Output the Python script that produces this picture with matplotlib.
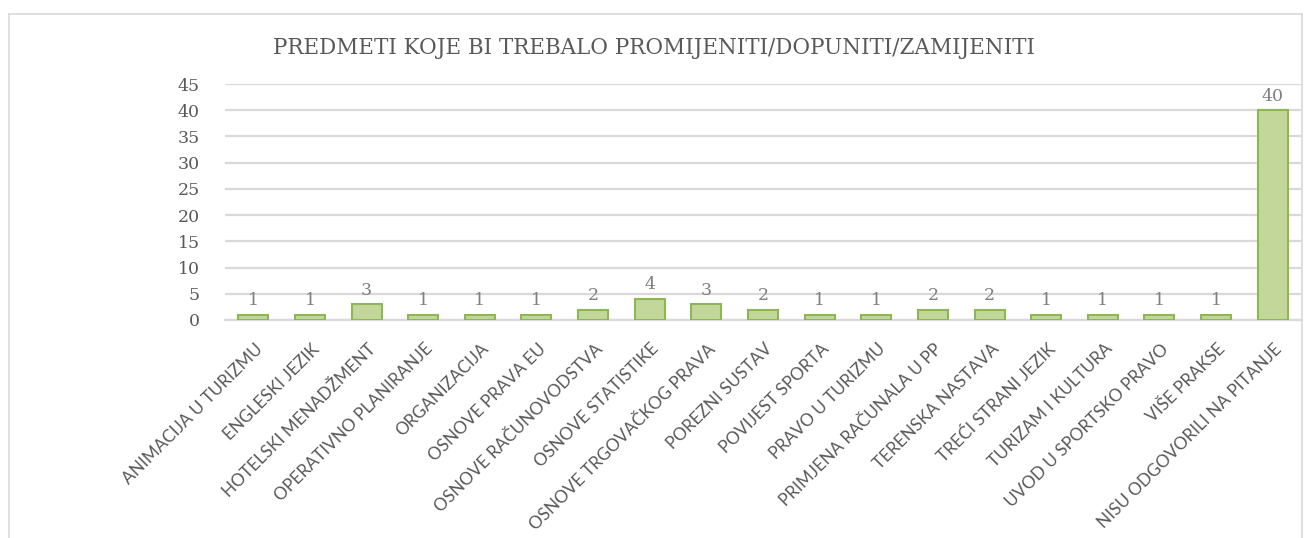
import matplotlib
matplotlib.use("Agg")
import matplotlib.pyplot as plt
from matplotlib.lines import Line2D
import matplotlib.transforms as mtransforms

categories = [
    "ANIMACIJA U TURIZMU", "ENGLESKI JEZIK", "HOTELSKI MENADŽMENT",
    "OPERATIVNO PLANIRANJE", "ORGANIZACIJA", "OSNOVE PRAVA EU",
    "OSNOVE RAČUNOVODSTVA", "OSNOVE STATISTIKE", "OSNOVE TRGOVAČKOG PRAVA",
    "POREZNI SUSTAV", "POVIJEST SPORTA", "PRAVO U TURIZMU",
    "PRIMJENA RAČUNALA U PP", "TERENSKA NASTAVA", "TREĆI STRANI JEZIK",
    "TURIZAM I KULTURA", "UVOD U SPORTSKO PRAVO", "VIŠE PRAKSE",
    "NISU ODGOVORILI NA PITANJE",
]
values = [1, 1, 3, 1, 1, 1, 2, 4, 3, 2, 1, 1, 2, 2, 1, 1, 1, 1, 40]
yticks = [0, 5, 10, 15, 20, 25, 30, 35, 40, 45]
title = "PREDMETI KOJE BI TREBALO PROMIJENITI/DOPUNITI/ZAMIJENITI"

W, H = 1306, 538
fig = plt.figure(figsize=(W / 100, H / 100), dpi=100)
ax = fig.add_axes([225 / W, 1 - 320 / H, (1301 - 225) / W, (320 - 84) / H])

serif = ["DejaVu Serif"]
sans = ["Lato", "DejaVu Sans"]
gray = "#595959"

# fit category label font size so the longest label is ~250 px long (as in reference)
renderer = fig.canvas.get_renderer()
probe = fig.text(0, 0, categories[-1], fontfamily=sans, fontsize=10)
wpx = probe.get_window_extent(renderer).width
probe.remove()
cat_fs = 10 * 250 / wpx

x = list(range(len(categories)))
ax.bar(x, values, width=0.53, color="#c4d79b", edgecolor="#8db654", linewidth=1.5, zorder=3)
ax.set_xlim(-0.5, len(categories) - 0.5)
ax.set_ylim(0, 45)
ax.set_yticks(yticks)
ax.set_yticklabels([str(t) for t in yticks], fontfamily=serif, fontsize=12.5, color=gray)
ax.yaxis.grid(True, color="#d9d9d9", linewidth=1.6, zorder=0)
ax.tick_params(axis="y", length=0, pad=18)
ax.tick_params(axis="x", length=0, pad=15)
for s in ["top", "right", "left"]:
    ax.spines[s].set_visible(False)
ax.spines["bottom"].set_color("#d9d9d9")
ax.spines["bottom"].set_linewidth(1.6)

ax.set_xticks(x)
ax.set_xticklabels(categories, rotation=45, ha="right", va="top", rotation_mode="anchor",
                   fontfamily=sans, fontsize=cat_fs, color=gray)
offset = mtransforms.ScaledTranslation(1 / 100, 0, fig.dpi_scale_trans)
for lbl in ax.get_xticklabels():
    lbl.set_transform(lbl.get_transform() + offset)

for xi, v in zip(x, values):
    ax.annotate(str(v), (xi, v), xytext=(0, 4), textcoords="offset points",
                ha="center", va="bottom", fontfamily=serif, fontsize=12.5, color="#7f7f7f")

fig.text(654 / W, 1 - 48 / H, title, ha="center", va="center",
         fontfamily=serif, fontsize=15.5, color=gray)

# chart frame
fc = "#d9d9d9"
fig.add_artist(Line2D([9 / W, 9 / W], [0, 1 - 14 / H], transform=fig.transFigure, color=fc, lw=1.2))
fig.add_artist(Line2D([9 / W, 1302 / W], [1 - 14 / H, 1 - 14 / H], transform=fig.transFigure, color=fc, lw=1.2))
fig.add_artist(Line2D([1302 / W, 1302 / W], [0, 1 - 14 / H], transform=fig.transFigure, color=fc, lw=1.2))

fig.savefig("out.png", dpi=100)
